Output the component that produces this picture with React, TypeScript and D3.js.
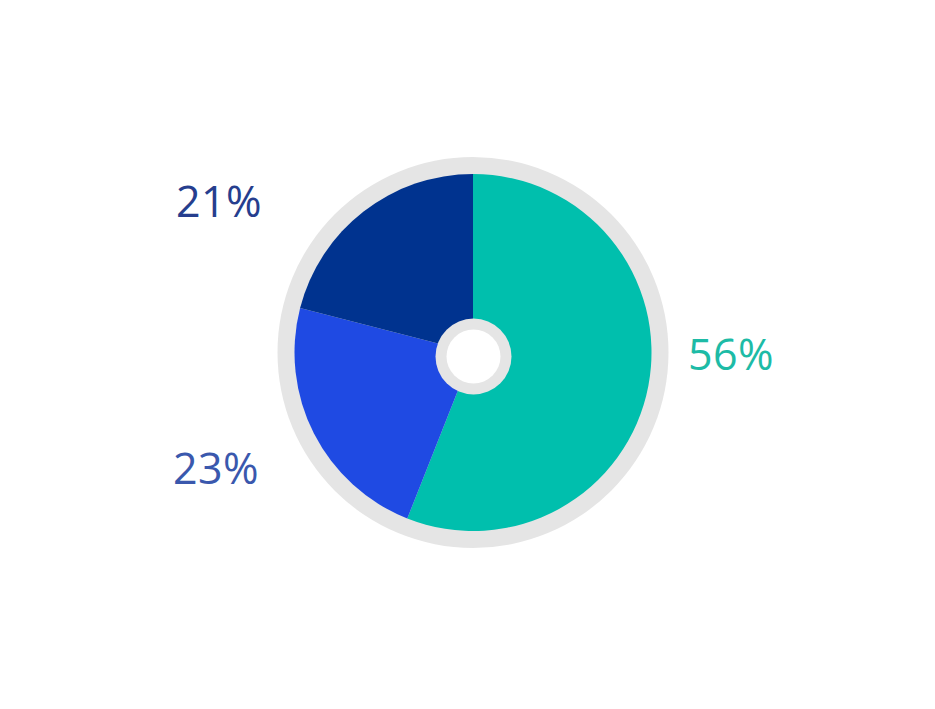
import React from "react";
import * as d3 from "d3";

const categories = ["A", "B", "C"];
const values = [56, 23, 21];
const labels = ["56%", "23%", "21%"];

const sliceColors = ["#00BFAD", "#1F4AE3", "#00338F"];
const labelColors = ["#1DBBA6", "#3A58AD", "#263E8E"];
// label anchor points (layout, relative to the svg)
const labelPos: [number, number][] = [
  [731, 370],
  [216, 484],
  [219, 217],
];

const W = 935;
const H = 709;
const cx = 473;
const cy = 352.5;
const R = 178.5;
const ringR = 195.5;
const holeCy = 356.5;

export default function App() {
  const pie = d3
    .pie<number>()
    .sort(null)
    .value((d) => d);
  const arcs = pie(values);
  const arc = d3.arc<d3.PieArcDatum<number>>().innerRadius(0).outerRadius(R);

  return (
    <svg
      width={W}
      height={H}
      style={{ position: "absolute", left: 0, top: 0 }}
      fontFamily="'Open Sans', sans-serif"
    >
      <rect width={W} height={H} fill="#ffffff" />
      <circle cx={cx} cy={cy} r={ringR} fill="#E5E5E5" />
      <g transform={`translate(${cx},${cy})`}>
        {arcs.map((a, i) => (
          <path key={categories[i]} d={arc(a) || ""} fill={sliceColors[i]} />
        ))}
      </g>
      <circle cx={cx + 0.5} cy={holeCy} r={38} fill="#E5E5E5" />
      <circle cx={cx + 0.5} cy={holeCy} r={27} fill="#ffffff" />
      {labels.map((t, i) => (
        <text
          key={t}
          x={labelPos[i][0]}
          y={labelPos[i][1]}
          textAnchor="middle"
          fontSize={43}
          letterSpacing={0.5}
          fill={labelColors[i]}
        >
          {t}
        </text>
      ))}
    </svg>
  );
}
